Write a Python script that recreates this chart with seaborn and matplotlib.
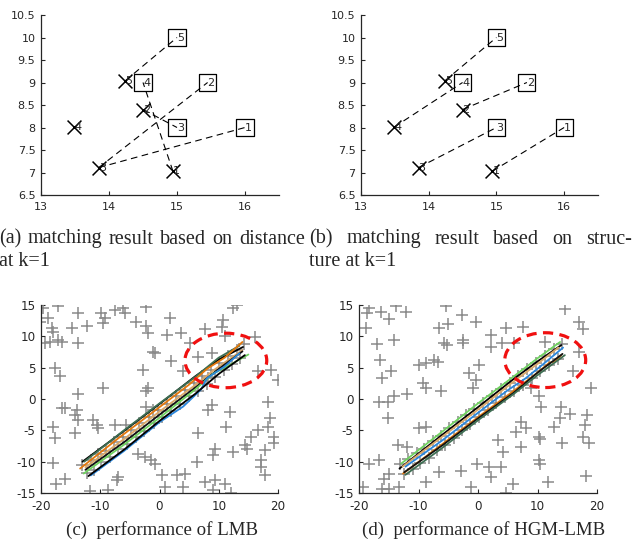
import numpy as np
import pandas as pd
import matplotlib
matplotlib.use("Agg")
import matplotlib.pyplot as plt
import seaborn as sns
from matplotlib.patches import Ellipse

# ---------------- data: panels (a) and (b) ----------------
cross_x = [14.94, 14.50, 13.85, 13.49, 14.24]
cross_y = [7.03, 8.40, 7.11, 8.01, 9.04]
cross_lbl = ["1", "2", "3", "4", "5"]
square_x = [16.0, 15.45, 15.0, 14.5, 15.0]
square_y = [8.0, 9.0, 8.0, 9.0, 10.0]
square_lbl = ["1", "2", "3", "4", "5"]
# matching pairs (cross label -> square label)
match_a_cross = [5, 3, 3, 2, 1]
match_a_square = [5, 2, 1, 3, 4]
match_b_cross = [1, 2, 3, 4, 5]
match_b_square = [1, 2, 3, 4, 5]
ab_xticks = [13, 14, 15, 16]
ab_yticks = [6.5, 7, 7.5, 8, 8.5, 9, 9.5, 10, 10.5]

# ---------------- data: panel (c) ----------------
clutter_c = [(-19.6, 14.5), (-17.1, 14.8), (-18.8, 13.0), (-20.2, 12.3), (-18.2, 11.3), (-17.9, 10.7),
             (-13.7, 13.8), (-9.8, 13.7), (-9.2, 12.9), (-9.5, 12.1), (-7.5, 14.2), (-6.1, 14.6),
             (-5.9, 13.8), (-2.2, 14.7), (-3.9, 12.3), (-2.2, 11.6), (-1.9, 10.5), (-12.3, 11.6),
             (-14.8, 11.4), (-13.7, 8.9), (-19.3, 8.9), (-18.5, 9.1), (-17.1, 9.4), (-16.5, 9.1),
             (-1.1, 7.5), (-0.7, 7.3), (-2.8, 4.7), (-17.6, 4.9), (-16.8, 3.7), (-9.5, 1.8),
             (-1.9, 1.7), (-2.2, 1.3), (-13.8, 0.8), (-16.5, -1.5), (-16.0, -1.5), (-2.2, -1.2),
             (-1.1, -1.8), (-14.0, -1.8), (-14.3, -2.6), (-13.7, -3.4), (-11.2, -3.4), (-10.6, -4.2),
             (-10.3, -4.7), (-7.5, -4.2), (-5.6, -4.2), (-17.9, -4.4), (-17.6, -6.3), (-14.3, -5.5),
             (-3.6, -8.7), (-2.5, -9.2), (-1.4, -9.7), (-0.8, -10.3), (-17.9, -10.2), (-17.4, -13.5),
             (-16.0, -12.8), (-11.8, -14.7), (-8.7, -14.6), (-7.0, -12.4), (-7.1, -13.0),
             (13.0, 15.0), (12.4, 14.5), (1.8, 12.9), (10.7, 12.6), (10.5, 11.5), (1.2, 10.2),
             (3.7, 10.5), (7.7, 11.1), (11.0, 10.0), (16.1, 9.9), (2.0, 6.0), (5.1, 8.9), (6.5, 6.7),
             (8.8, 7.4), (4.0, 4.4), (16.6, 4.4), (18.9, 4.6), (20.0, 3.1), (8.2, 3.3), (8.8, -1.0),
             (8.2, -1.8), (11.9, -2.0), (11.3, -4.4), (6.5, -5.5), (18.3, -0.4), (18.6, -3.1),
             (18.3, -4.4), (16.6, -5.0), (15.5, -6.0), (14.4, -7.4), (14.7, -7.9), (19.4, -6.0),
             (19.4, -7.1), (17.8, -8.2), (17.2, -9.8), (17.2, -10.8), (17.8, -12.2), (9.3, -7.9),
             (9.1, -9.0), (12.4, -8.5), (6.3, -10.0), (0.4, -12.2), (0.9, -14.0), (2.9, -12.2),
             (4.3, -11.9), (4.0, -14.0), (7.7, -13.2), (9.3, -13.0), (9.1, -14.6), (11.0, -13.5),
             (12.1, -15.0)]
meas_c = [(-13.0, -10.6), (-12.3, -11.8), (-11.6, -9.7), (-11.0, -11.3), (-10.4, -8.8), (-9.8, -10.1),
          (-9.0, -8.3), (-8.3, -9.2), (-7.6, -6.8), (-7.0, -8.0), (-6.2, -6.0), (-5.5, -7.2),
          (-4.8, -4.9), (-4.0, -6.1), (-3.4, -3.8), (-2.6, -5.1), (-1.8, -2.9), (-1.0, -3.9),
          (-0.3, -1.7), (0.5, -2.9), (1.2, -0.8), (2.0, -1.9), (2.8, 0.4), (3.5, -0.8), (4.3, 1.5),
          (5.0, 0.4), (5.8, 2.6), (6.5, 1.2), (7.2, 3.6), (8.0, 2.4), (8.7, 4.7), (9.4, 3.5),
          (10.1, 5.7), (10.9, 4.6), (11.6, 6.8), (12.3, 5.6), (13.0, 7.8), (13.6, 6.6), (14.2, 8.8)]
tracks_c = {
    "k1": [(-13.0, -10.0), (-6.0, -5.1), (0.0, -0.8), (6.0, 3.6), (10.0, 6.3), (14.1, 8.3)],
    "g1": [(-12.7, -10.0), (-6.0, -5.0), (0.0, -0.7), (6.0, 3.5), (10.0, 6.6), (13.5, 8.5)],
    "o1": [(-13.4, -11.1), (-7.0, -6.3), (0.0, -1.3), (5.0, 2.3), (8.0, 4.8), (11.0, 6.6), (14.0, 9.1)],
    "t1": [(-12.5, -10.9), (-6.0, -6.4), (0.0, -2.0), (6.0, 2.2), (9.0, 4.5), (12.0, 6.5), (14.0, 7.8)],
    "k2": [(-12.5, -11.3), (-6.0, -6.9), (0.0, -2.5), (6.0, 1.8), (10.0, 4.8), (14.0, 7.6)],
    "l1": [(-12.8, -11.9), (-6.0, -7.3), (0.0, -3.0), (6.0, 1.5), (9.0, 4.0), (12.0, 5.5), (15.0, 7.1)],
    "b1": [(-11.6, -12.2), (-6.0, -8.3), (0.0, -3.7), (4.0, -1.2), (7.0, 1.5), (8.0, 3.3), (11.0, 5.2), (13.5, 7.3)],
    "k3": [(-12.0, -12.3), (-6.0, -8.1), (0.0, -3.5), (6.0, 0.8), (10.0, 4.0), (14.4, 7.0)],
}
ellipse_c = (11.2, 6.15, 13.8, 8.7)

# ---------------- data: panel (d) ----------------
clutter_d = [(-18.3, 14.6), (-18.6, 13.7), (-16.35, 13.9), (-14.95, 12.7), (-13.8, 14.8), (-12.15, 13.9),
             (-18.9, 11.3), (-16.9, 8.8), (-14.1, 9.4), (-16.5, 6.3), (-14.7, 4.5), (-16.1, 3.4),
             (-14.1, 0.4), (-16.6, -0.4), (-15.1, -0.5), (-11.9, 0.8), (-15.2, -3.1), (-5.4, 14.8),
             (-2.7, 13.4), (-0.4, 12.3), (-6.5, 11.4), (-5.0, 12.0), (-5.7, 9.0), (-5.2, 8.6),
             (-2.6, 9.4), (-2.5, 8.9), (-9.9, 5.4), (-8.8, 5.8), (-7.4, 6.3), (-6.8, 5.9), (-9.3, 2.5),
             (-8.8, 1.8), (-6.3, 1.2), (-1.5, 4.1), (-0.9, 1.7), (0.2, 5.4), (-9.9, -4.7), (-8.8, -4.4),
             (-13.5, -7.4), (-11.9, -7.6), (-18.3, -10.3), (-16.7, -9.7), (-14.95, -11.9),
             (-15.8, -12.7), (-16.1, -14.3), (-14.95, -14.3), (-19.4, -14.0), (-13.3, -14.0),
             (-8.8, -13.2), (-6.5, -11.6), (-2.9, -11.5), (-1.2, -14.0), (-0.1, -10.4),
             (14.7, 14.3), (4.7, 11.3), (7.5, 11.5), (17.0, 12.3), (17.6, 11.1), (2.2, 10.2),
             (4.1, 8.9), (2.2, 8.3), (6.1, 9.0), (11.2, 9.1), (17.0, 7.5), (16.0, 4.4), (-0.3, 3.0),
             (19.0, 1.7), (10.3, 0.4), (10.6, -1.2), (8.9, 1.8), (14.0, -1.2), (15.4, -2.4),
             (13.7, -3.1), (12.8, -4.4), (7.2, -3.6), (8.1, -4.7), (6.4, -5.2), (10.3, -6.1),
             (10.5, -6.4), (14.2, -7.1), (18.4, -2.6), (17.9, -4.2), (17.6, -6.1), (18.7, -7.0),
             (7.2, -7.6), (3.3, -6.6), (4.2, -8.4), (10.3, -9.8), (10.4, -10.3), (1.9, -10.8),
             (3.9, -10.8), (2.2, -12.4), (5.8, -13.6), (4.7, -15.0), (11.7, -13.2), (18.2, -12.3)]
meas_d = [(-13.1, -10.4), (-12.4, -11.9), (-11.7, -9.6), (-11.0, -11.2), (-10.3, -8.6), (-9.7, -10.2),
          (-9.0, -7.9), (-8.3, -9.4), (-7.6, -6.7), (-6.9, -8.1), (-6.2, -5.9), (-5.5, -7.3),
          (-4.8, -4.7), (-4.1, -6.2), (-3.4, -3.7), (-2.7, -5.0), (-2.0, -2.6), (-1.3, -4.0),
          (-0.6, -1.6), (0.2, -2.9), (0.9, -0.6), (1.7, -1.8), (2.4, 0.5), (3.1, -0.7), (3.9, 1.6),
          (4.6, 0.3), (5.3, 2.6), (6.1, 1.3), (6.8, 3.7), (7.5, 2.3), (8.3, 4.8), (9.0, 3.4),
          (9.7, 5.8), (10.5, 4.4), (11.2, 6.9), (11.9, 5.4), (12.7, 7.9), (13.4, 6.4), (14.1, 8.7)]
tracks_d = {
    "l1": [(-12.9, -10.3), (-6.0, -5.2), (0.0, -0.7), (6.0, 3.6), (10.0, 6.5), (13.8, 9.1)],
    "k1": [(-13.2, -11.1), (-6.0, -5.7), (0.0, -1.3), (6.0, 3.2), (10.0, 6.0), (14.0, 8.6)],
    "t1": [(-12.7, -10.8), (-6.0, -6.0), (0.0, -1.7), (6.0, 2.8), (10.0, 5.6), (13.5, 8.2)],
    "b1": [(-12.2, -10.8), (-6.0, -6.6), (0.0, -2.2), (5.0, 1.4), (8.0, 3.3), (11.0, 5.6), (14.3, 8.2)],
    "o1": [(-12.6, -11.9), (-6.0, -7.2), (0.0, -2.9), (6.0, 1.3), (10.0, 4.2), (12.0, 5.8), (13.0, 6.0), (14.0, 7.0)],
    "k2": [(-12.4, -11.7), (-6.0, -7.4), (0.0, -3.1), (6.0, 1.0), (10.0, 4.2), (14.2, 7.2)],
    "g1": [(-12.2, -12.1), (-6.0, -7.8), (0.0, -3.4), (6.0, 0.8), (10.0, 3.8), (14.6, 7.0)],
}
ellipse_d = (11.3, 6.2, 13.6, 8.75)
cd_xticks = [-20, -10, 0, 10, 20]
cd_yticks = [-15, -10, -5, 0, 5, 10, 15]

track_colors = {"k1": "#000000", "k2": "#111111", "k3": "#000000", "g1": "#3d6e52",
                "o1": "#e3780c", "t1": "#dba868", "l1": "#6fd35f", "b1": "#2a86dc"}

# ---------------- style ----------------
sns.set_style("ticks")
plt.rcParams["font.family"] = ["DejaVu Sans"]
plt.rcParams["axes.unicode_minus"] = False

W, H = 643, 548
fig = plt.figure(figsize=(W / 100, H / 100), dpi=100)


def add_ax(l, t, r, b):
    return fig.add_axes([l / W, 1 - b / H, (r - l) / W, (b - t) / H])


def style_ax(ax, fs):
    for s in ["top", "right"]:
        ax.spines[s].set_visible(False)
    for s in ["left", "bottom"]:
        ax.spines[s].set_linewidth(0.9)
        ax.spines[s].set_color("#262626")
    ax.tick_params(direction="in", length=3, width=0.8, labelsize=fs,
                   colors="#262626")
    ax.tick_params(axis="x", pad=5)
    ax.tick_params(axis="y", pad=4)
    ax.set_xlabel("")
    ax.set_ylabel("")


def fmt(v):
    return ("%g" % v)


def draw_match(ax, mc, ms):
    # dashed matching lines
    for c, s in zip(mc, ms):
        df = pd.DataFrame({"x": [cross_x[c - 1], square_x[s - 1]],
                           "y": [cross_y[c - 1], square_y[s - 1]]})
        sns.lineplot(data=df, x="x", y="y", ax=ax, color="black", lw=0.8,
                     linestyle=(0, (6, 4)), sort=False, estimator=None)
    sns.scatterplot(x=cross_x, y=cross_y, ax=ax, marker="x", color="black",
                    s=100, linewidth=1.1, zorder=3)
    ax.scatter(square_x, square_y, marker="s", s=150, facecolors="none",
               edgecolors="black", linewidths=0.9, zorder=3)
    for x, y, t in zip(cross_x, cross_y, cross_lbl):
        ax.text(x, y, t, ha="left", va="center", fontsize=8, zorder=4)
    for x, y, t in zip(square_x, square_y, square_lbl):
        ax.text(x, y, t, ha="left", va="center", fontsize=8, zorder=4)
    ax.set_xlim(13, 16.5)
    ax.set_ylim(6.5, 10.5)
    ax.set_xticks(ab_xticks)
    ax.set_yticks(ab_yticks)
    ax.set_xticklabels([fmt(v) for v in ab_xticks])
    ax.set_yticklabels([fmt(v) for v in ab_yticks])
    style_ax(ax, 8.0)


def draw_track_panel(ax, clutter, meas, tracks, ell):
    cx = [p[0] for p in clutter]
    cy = [p[1] for p in clutter]
    sns.scatterplot(x=cx, y=cy, ax=ax, marker="+", color="#8a8a8a", s=85,
                    linewidth=1.1, zorder=1)
    mx = [p[0] for p in meas]
    my = [p[1] for p in meas]
    sns.scatterplot(x=mx, y=my, ax=ax, marker="+", color="#8a8a8a", s=85,
                    linewidth=1.1, zorder=1)
    rows = []
    for name, pts in tracks.items():
        for i, (x, y) in enumerate(pts):
            rows.append({"track": name, "x": x, "y": y, "i": i})
    tdf = pd.DataFrame(rows)
    sns.lineplot(data=tdf, x="x", y="y", hue="track", palette=track_colors,
                 sort=False, estimator=None, lw=1.3, ax=ax, legend=False, zorder=2)
    e = Ellipse((ell[0], ell[1]), ell[2], ell[3], fill=False, edgecolor="#f01010",
                lw=2.3, linestyle=(0, (3.2, 2.0)), zorder=5)
    ax.add_patch(e)
    ax.set_xlim(-20, 20)
    ax.set_ylim(-15, 15)
    ax.set_xticks(cd_xticks)
    ax.set_yticks(cd_yticks)
    ax.set_xticklabels([fmt(v) for v in cd_xticks])
    ax.set_yticklabels([fmt(v) for v in cd_yticks])
    style_ax(ax, 8.6)


axa = add_ax(41, 15, 279, 195)
axb = add_ax(361, 15, 598, 195)
axc = add_ax(41, 305, 278, 493)
axd = add_ax(359, 305, 597, 493)

draw_match(axa, match_a_cross, match_a_square)
draw_match(axb, match_b_cross, match_b_square)
draw_track_panel(axc, clutter_c, meas_c, tracks_c, ellipse_c)
draw_track_panel(axd, clutter_d, meas_d, tracks_d, ellipse_d)

# ---------------- captions ----------------
CAP_FS = 13.6
CAP_FS_AB = 14.5
serif = ["Liberation Serif", "DejaVu Serif"]


def justified(words, x0, x1, y, fs):
    texts = [fig.text(0, 1 - y / H, w, fontsize=fs, family=serif, va="center", ha="left")
             for w in words]
    fig.canvas.draw()
    r = fig.canvas.get_renderer()
    widths = [t.get_window_extent(r).width for t in texts]
    gap = ((x1 - x0) - sum(widths)) / (len(words) - 1)
    x = x0
    for t, w in zip(texts, widths):
        t.set_x(x / W)
        x += w + gap


justified(["(a)", "matching", "result", "based", "on", "distance"], -1, 305, 239, CAP_FS_AB)
fig.text(-1 / W, 1 - 262 / H, "at k=1", fontsize=CAP_FS_AB, family=serif, va="center", ha="left")
justified(["(b)", "matching", "result", "based", "on", "struc-"], 309, 632, 239, CAP_FS_AB)
fig.text(309 / W, 1 - 262 / H, "ture at k=1", fontsize=CAP_FS_AB, family=serif, va="center", ha="left")
fig.text(162 / W, 1 - 530 / H, "(c)  performance of LMB", fontsize=CAP_FS, family=serif,
         va="center", ha="center")
fig.text(484 / W, 1 - 530 / H, "(d)  performance of HGM-LMB", fontsize=CAP_FS, family=serif,
         va="center", ha="center")

fig.savefig("out.png", dpi=100)
